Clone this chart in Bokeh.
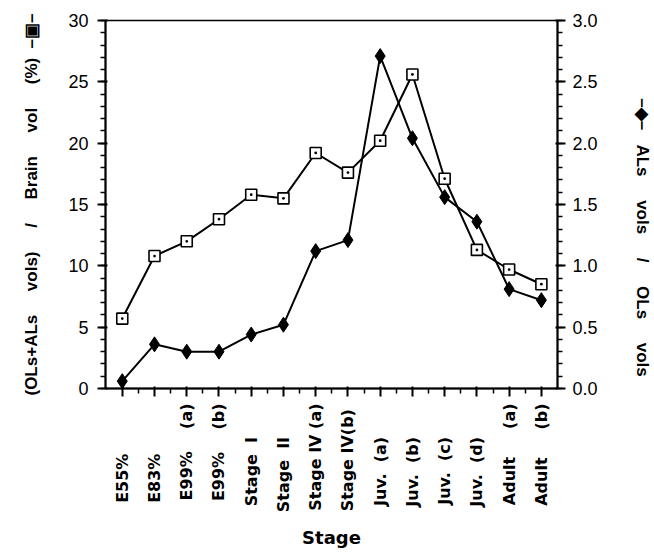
import math
from bokeh.plotting import figure
from bokeh.models import Range1d, LinearAxis, FixedTicker, SingleIntervalTicker, NumeralTickFormatter
from bokeh.embed import file_html
from bokeh.resources import INLINE

NB = "\u00a0"

# ---- data ----
stages = ["E55%", "E83%", "E99%" + NB*4 + "(a)", "E99%" + NB*4 + "(b)",
          "Stage" + NB*2 + "I", "Stage" + NB*2 + "II", "Stage IV (a)", "Stage IV(b)",
          "Juv." + NB*2 + "(a)", "Juv." + NB*2 + "(b)", "Juv." + NB*2 + "(c)", "Juv." + NB*2 + "(d)",
          "Adult" + NB*5 + "(a)", "Adult" + NB*5 + "(b)"]
brain_vol_pct = [5.7, 10.8, 12.0, 13.8, 15.8, 15.5, 19.2, 17.6, 20.2, 25.6, 17.1, 11.3, 9.7, 8.5]
als_ols_ratio = [0.06, 0.36, 0.30, 0.30, 0.44, 0.52, 1.12, 1.21, 2.71, 2.04, 1.56, 1.36, 0.81, 0.72]

# trailing padding (layout only) so labels sit low like the original
label_pad = [9, 9, 0, 0, 6, 6, 0, 1, 6, 6, 6, 6, 0, 0]

x = list(range(len(stages)))

p = figure(width=654, height=557, output_backend="svg", toolbar_location=None,
           x_range=Range1d(-0.52, 13.5), y_range=Range1d(0, 30),
           min_border_left=105, min_border_right=96, min_border_top=20, min_border_bottom=169)
p.extra_y_ranges = {"ratio": Range1d(0, 3)}
p.grid.visible = False
p.outline_line_color = "black"
p.outline_line_width = 1.5
p.background_fill_color = "white"
p.border_fill_color = "white"

# lines and markers
p.line(x, brain_vol_pct, line_color="black", line_width=2)
p.line(x, als_ols_ratio, y_range_name="ratio", line_color="black", line_width=2)
p.scatter(x, als_ols_ratio, y_range_name="ratio", marker="diamond", size=15,
          fill_color="black", line_color="black")
p.scatter(x, brain_vol_pct, marker="square_dot", size=11, fill_color="white",
          line_color="black", line_width=1.6)

# x axis
xa = p.xaxis[0]
xa.ticker = FixedTicker(ticks=x, minor_ticks=[i + 0.5 for i in x[:-1]])
xa.major_label_overrides = {i: s + NB * n for i, s, n in zip(x, stages, label_pad)}
xa.major_label_orientation = math.pi / 2
xa.major_label_text_font = "DejaVu Sans"
xa.major_label_text_font_style = "bold"
xa.major_label_text_font_size = "16px"
xa.major_label_text_color = "black"
xa.axis_label = "Stage"
xa.axis_label_text_font = "DejaVu Sans"
xa.axis_label_text_font_size = "18px"
xa.axis_label_standoff = 12
xa.major_label_standoff = 7

# left axis
ya = p.yaxis[0]
ya.ticker = SingleIntervalTicker(interval=5, num_minor_ticks=5)
ya.major_label_text_font = "Liberation Sans"
ya.major_label_text_font_size = "18px"
ya.major_label_text_color = "black"
ya.axis_label = ("(OLs+ALs" + NB*5 + "vols)" + NB*5 + "/" + NB*5 + "Brain" + NB*5 + "vol"
                 + NB*5 + "(%)" + NB*2 + "\u2013\u25a3\u2013")
ya.axis_label_text_font = "Liberation Sans"
ya.axis_label_text_font_size = "17px"
ya.axis_label_standoff = 24
ya.major_label_standoff = 9

# right axis
ra = LinearAxis(y_range_name="ratio", ticker=SingleIntervalTicker(interval=0.5, num_minor_ticks=5),
                formatter=NumeralTickFormatter(format="0.0"))
ra.major_label_text_font = "Liberation Sans"
ra.major_label_text_font_size = "18px"
ra.major_label_text_color = "black"
ra.axis_label = (NB*14 + "\u2013\u25c6\u2013" + NB*3 + "ALs" + NB*5 + "vols" + NB*5 + "/"
                 + NB*5 + "OLs" + NB*5 + "vols")
ra.axis_label_text_font = "Liberation Sans"
ra.axis_label_text_font_size = "17px"
ra.axis_label_standoff = 32
ra.major_label_standoff = 7
p.add_layout(ra, "right")

for ax in [xa, ya, ra]:
    ax.axis_line_color = "black"
    ax.axis_line_width = 2
    ax.major_tick_line_color = "black"
    ax.minor_tick_line_color = "black"
    ax.major_tick_line_width = 2
    ax.minor_tick_line_width = 1.5
    ax.major_tick_out = 8
    ax.major_tick_in = 2
    ax.minor_tick_out = 5
    ax.minor_tick_in = 0
    ax.axis_label_text_font_style = "bold"
    ax.axis_label_text_color = "black"

open("out.html", "w").write(file_html(p, INLINE))
